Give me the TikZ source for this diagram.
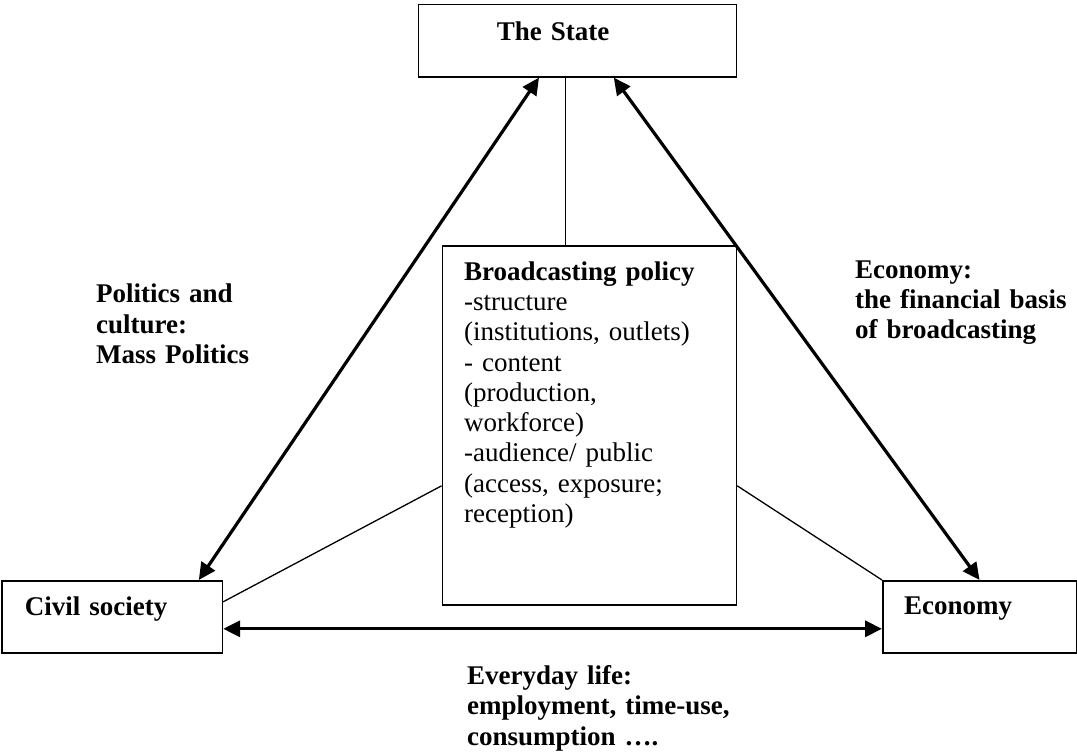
\documentclass[tikz,border=0pt]{standalone}
\usepackage{fontspec}
\setmainfont{Liberation Serif}
\usetikzlibrary{arrows.meta}
\tikzset{box/.style={draw,line width=1.6pt,anchor=north west,inner ysep=0pt,align=left,
           font=\fontsize{27}{30.3}\selectfont\bfseries},
         lbl/.style={anchor=base west,inner sep=0pt,align=left,
           font=\fontsize{27}{30.3}\selectfont\bfseries},
         link/.style={draw,line width=1.3pt},
         flow/.style={draw,line width=3.2pt,
           {Triangle[length=17pt,width=16pt]}-{Triangle[length=17pt,width=16pt]}}}

\begin{document}
\begin{tikzpicture}[x=1pt,y=-1pt]
\useasboundingbox (0,0) rectangle (1077,753);
\node[box,text width=161.2pt,inner xsep=78.4pt,text height=36.2pt,text depth=36pt] (state) at (417.6,3.8) {The State};
\node[box,text width=175pt,inner xsep=22.6pt,text height=35pt,text depth=37pt] (civil) at (1.4,580) {Civil society};
\node[box,text width=150.9pt,inner xsep=21.3pt,text height=34pt,text depth=38pt] (econ) at (882,580) {Economy};
\node[box,font=\fontsize{27}{30.3}\selectfont,text width=250.6pt,inner xsep=21.7pt,
      text height=34.3pt,text depth=324.7pt] (policy) at (441.6,245)
  {\textbf{Broadcasting policy}\\-structure\\(institutions, outlets)\\- content\\(production,\\workforce)\\-audience/ public\\(access, exposure;\\reception)};

\node[lbl,text width=200pt] (polit) at (96,302.7) {Politics and\\culture:\\Mass Politics};
\node[lbl,text width=220pt] (fin) at (855,278.3) {Economy:\\the financial basis\\of broadcasting};
\node[lbl,text width=300pt] (daily) at (467,684.4) {Everyday life:\\employment, time-use,\\consumption ….};

\draw[link] ([xshift=-12pt]state.south) -- ([xshift=-12pt]state.south |- policy.north);
\draw[link] ([yshift=15pt]civil.east) -- ([yshift=-60.5pt]policy.west);
\draw[link] ([yshift=-60.5pt]policy.east) -- (econ.north west);

\draw[flow] ([xshift=121.4pt]state.south west) -- ([xshift=86.5pt]civil.north);
\draw[flow] ([xshift=36.4pt]state.south) -- (econ.north);
\draw[flow] ([yshift=-12pt]civil.east) -- ([yshift=-12pt]econ.west);
\end{tikzpicture}
\end{document}
